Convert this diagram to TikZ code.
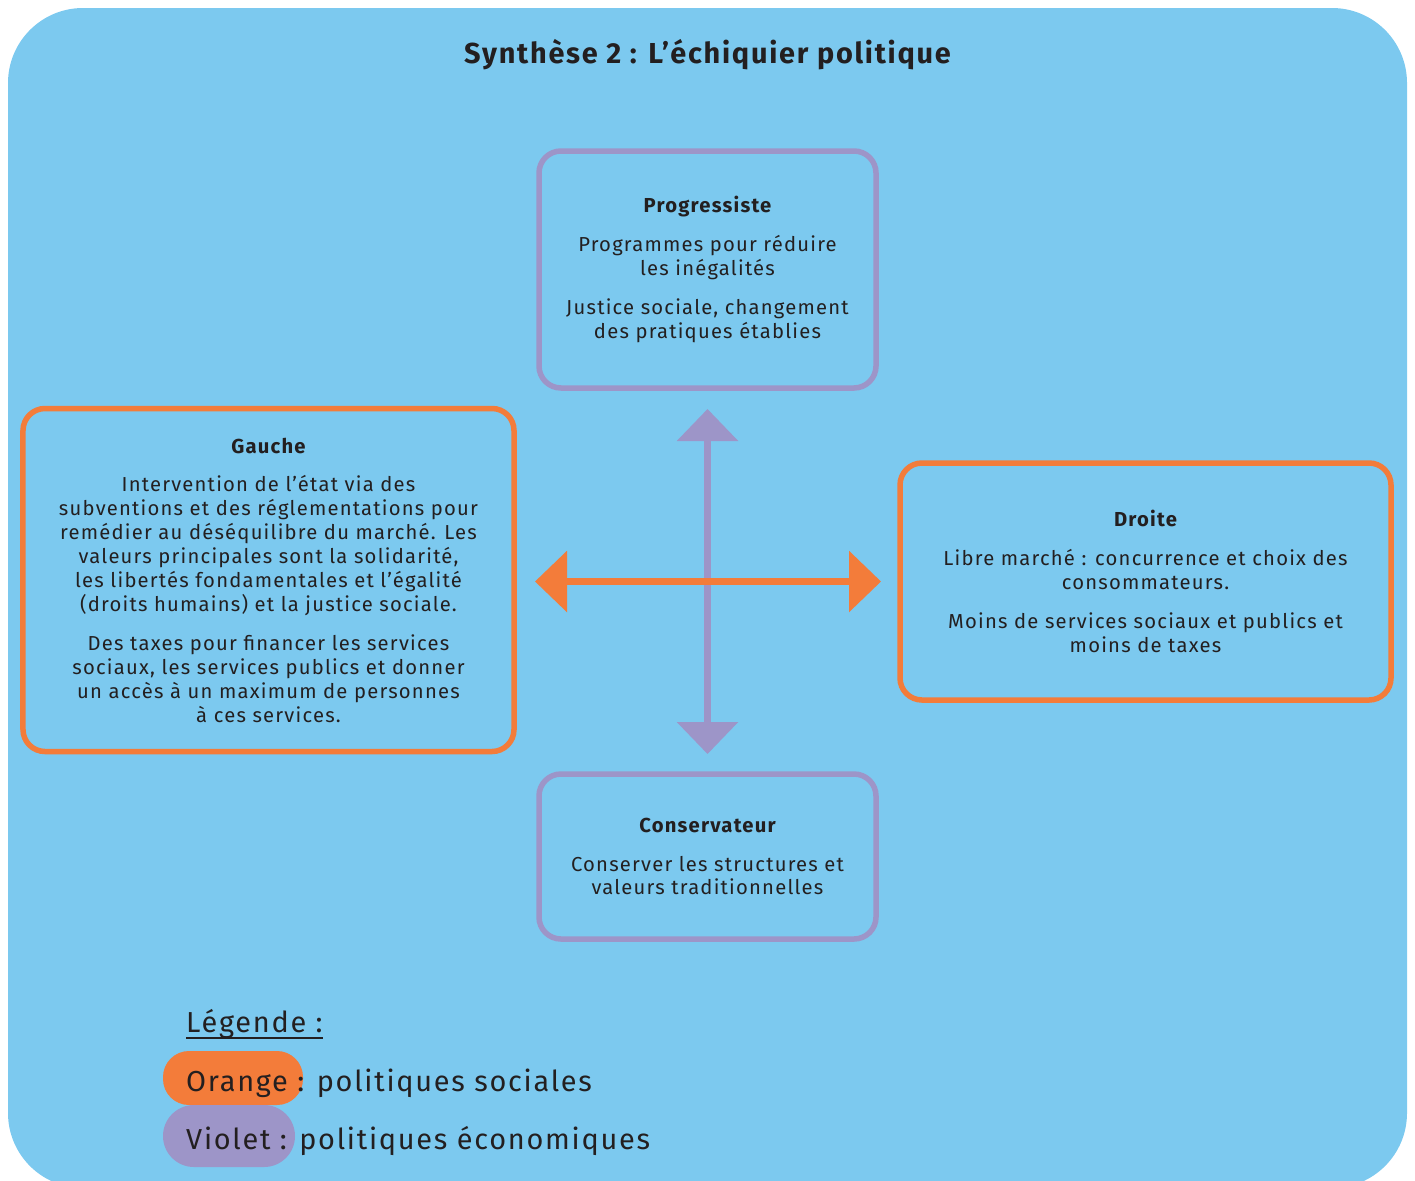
\documentclass[tikz,border=0pt]{standalone}
\usepackage{fontspec}
\setmainfont[LetterSpace=6]{Fira Sans}
\usetikzlibrary{arrows.meta}
\definecolor{bgblue}{HTML}{7CC9EF}
\definecolor{orng}{HTML}{F37C3A}
\definecolor{viol}{HTML}{9D95C8}
\definecolor{ink}{HTML}{231F20}
\tikzset{
  box/.style={rounded corners=22bp, line width=5.5bp, align=center, inner sep=0pt,
    text=ink, font=\fontsize{20.3}{24}\selectfont},
  obox/.style={box, draw=orng},
  vbox/.style={box, draw=viol},
  oarrow/.style={draw=orng, line width=6.5bp, -{Triangle[width=60bp,length=32bp]}, fill=orng},
  varrow/.style={draw=viol, line width=6.5bp, -{Triangle[width=60bp,length=32bp]}, fill=viol},
  legtext/.style={anchor=base west, inner sep=0pt, text=ink, font=\fontsize{29}{32}\selectfont},
}
\begin{document}
\begin{tikzpicture}[x=1bp,y=-1bp]
\useasboundingbox (0,0) rectangle (1415,1180);
\clip (0,0) rectangle (1415,1180);
\fill[bgblue, rounded corners=75bp] (8,8) rectangle (1407,1188);

\node[text=ink, font=\fontsize{29}{32}\selectfont\bfseries, inner sep=0pt] (title) at (707.5,55)
  {Synthèse 2 : L’échiquier politique};

\node[vbox, minimum width=337bp, minimum height=237bp] (prog) at (707.5,269.5)
  {{\bfseries Progressiste}\\[15bp]
   Programmes pour réduire\\ les inégalités\\[15bp]
   Justice sociale, changement\\ des pratiques établies};

\node[obox, minimum width=491bp, minimum height=343bp] (gauche) at (268.5,580)
  {{\bfseries Gauche}\\[15bp]
   Intervention de l’état via des\\
   subventions et des réglementations pour\\
   remédier au déséquilibre du marché. Les\\
   valeurs principales sont la solidarité,\\
   les libertés fondamentales et l’égalité\\
   (droits humains) et la justice sociale.\\[15bp]
   Des taxes pour financer les services\\
   sociaux, les services publics et donner\\
   un accès à un maximum de personnes\\
   à ces services.};

\node[obox, minimum width=491bp, minimum height=237bp] (droite) at (1145.5,581.5)
  {{\bfseries Droite}\\[15bp]
   Libre marché : concurrence et choix des\\ consommateurs.\\[15bp]
   Moins de services sociaux et publics et\\ moins de taxes};

\node[vbox, minimum width=337bp, minimum height=165bp] (cons) at (707.5,856.5)
  {{\bfseries Conservateur}\\[15bp]
   Conserver les structures et\\ valeurs traditionnelles};

\coordinate (vtop) at (707.5,409);
\coordinate (vbot) at (707.5,754);
\coordinate (hl) at (535,581.5);
\coordinate (hr) at (881,581.5);
\coordinate (mid) at (707.5,581.5);

\draw[varrow] (mid) -- (vtop);
\draw[varrow] (mid) -- (vbot);
\draw[oarrow] (mid) -- (hl);
\draw[oarrow] (mid) -- (hr);

\node[legtext] (leg) at (186,1032) {Légende :};
\draw[ink, line width=1.5bp] (leg.base west) ++(0,6) coordinate (ul1) -- (ul1 -| leg.east);
\fill[orng, rounded corners=26bp] (163,1051) rectangle (303,1105);
\fill[viol, rounded corners=31bp] (163,1105) rectangle (295,1167);
\node[legtext] (lo) at (186,1091) {Orange : politiques sociales};
\node[legtext] (lv) at (186,1149) {Violet : politiques économiques};
\end{tikzpicture}
\end{document}
